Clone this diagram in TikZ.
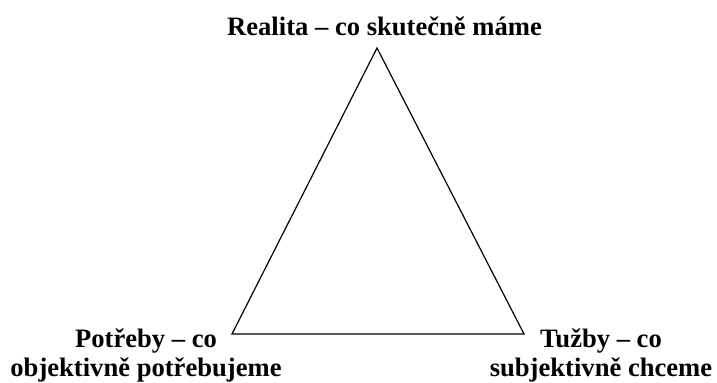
\documentclass[tikz,border=0pt]{standalone}
\usepackage{fontspec}
\setmainfont{Liberation Serif}
\usetikzlibrary{positioning}
\tikzset{
  corner/.style={
    font=\fontsize{13.3}{14.5}\selectfont\bfseries,
    align=center,
    inner sep=0pt,
    anchor=base
  },
  edge/.style={
    draw=black,
    line width=0.6pt,
    line join=miter
  }
}

\begin{document}
\begin{tikzpicture}[x=0.5pt, y=-0.5pt]
  \useasboundingbox (0,0) rectangle (717,383);
  \coordinate (top) at (377,48);
  \coordinate (left) at (232,334);
  \coordinate (right) at (524,334);
  \draw[edge] (top) -- (left) -- (right) -- cycle;
  \node[corner] (reality) at (384.5,36) {Realita – co skutečně máme};
  \node[corner] (needs) at (146,377) {Potřeby – co\\objektivně potřebujeme};
  \node[corner] (wishes) at (601,377) {Tužby – co\\subjektivně chceme};
\end{tikzpicture}
\end{document}
